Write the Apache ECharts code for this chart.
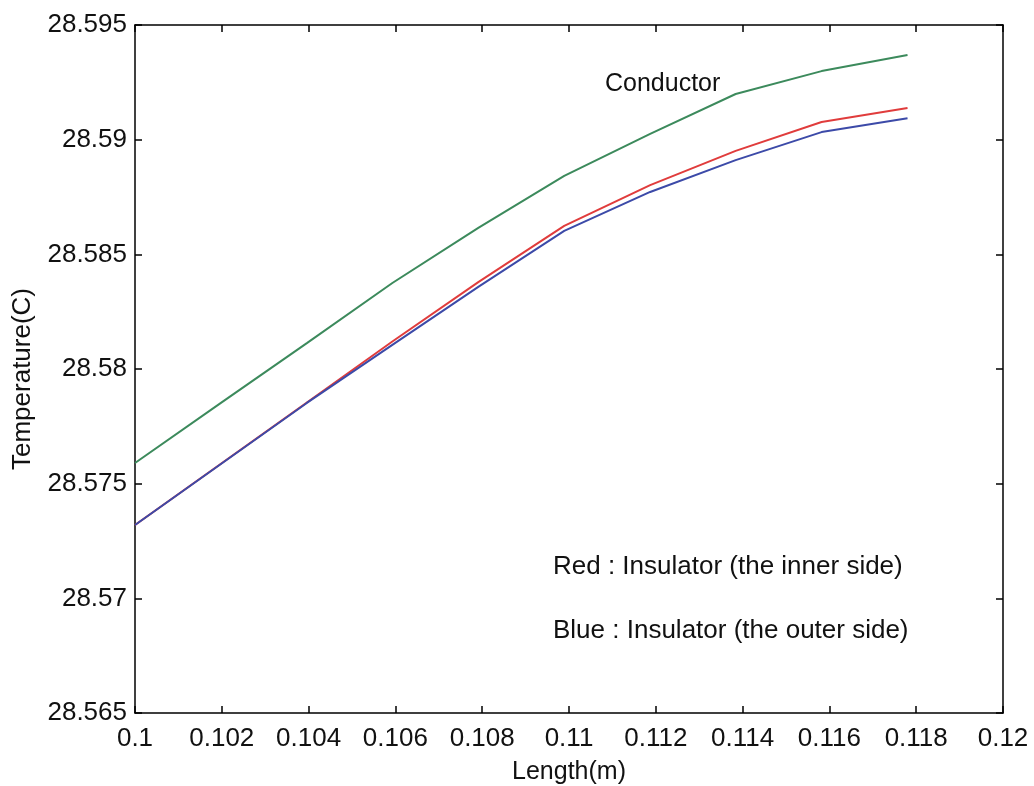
<!DOCTYPE html>
<html>
<head>
<meta charset="utf-8">
<script src="https://cdn.jsdelivr.net/npm/echarts@6/dist/echarts.min.js"></script>
<style>
html,body{margin:0;padding:0;background:#fff;}
#c{width:1034px;height:786px;}
</style>
</head>
<body>
<div id="c"></div>
<script>
const lengthM = [0.1, 0.10198, 0.10396, 0.10593, 0.10791, 0.10989, 0.11187, 0.11384, 0.11582, 0.1178];
const conductor = [28.57590, 28.57852, 28.58113, 28.58375, 28.58615, 28.58842, 28.59025, 28.59199, 28.59299, 28.59369];
const insulatorInner = [28.57320, 28.57587, 28.57854, 28.58120, 28.58379, 28.58624, 28.58802, 28.58951, 28.59077, 28.59138];
const insulatorOuter = [28.57320, 28.57586, 28.57852, 28.58105, 28.58358, 28.58602, 28.58772, 28.58911, 28.59033, 28.59093];
const xTicks = {min: 0.1, max: 0.12, step: 0.002};
const yTicks = {min: 28.565, max: 28.595, step: 0.005};
const labels = {
  x: 'Length(m)', y: 'Temperature(C)', conductor: 'Conductor',
  red: 'Red : Insulator (the inner side)', blue: 'Blue : Insulator (the outer side)'
};

const FONT = 'Liberation Sans, Arial, sans-serif';
const pairs = (xs, ys) => xs.map((x, i) => [x, ys[i]]);
const fmt = v => String(parseFloat(Number(v).toFixed(3)));

const chart = echarts.init(document.getElementById('c'), null, {renderer: 'canvas'});
const axisCommon = {
  axisLine: {show: true, onZero: false, lineStyle: {color: '#000', width: 1.5}},
  axisTick: {show: true, inside: true, length: 7, lineStyle: {color: '#000', width: 1.5}},
  splitLine: {show: false}
};
const line = (name, data, color) => ({
  name, type: 'line', data, showSymbol: false, symbol: 'none',
  lineStyle: {color, width: 2}, itemStyle: {color}, animation: false, z: 3
});

chart.setOption({
  animation: false,
  backgroundColor: '#fff',
  grid: {left: 135, right: 31, top: 25, bottom: 73, containLabel: false, outerBoundsMode: 'none'},
  xAxis: [
    Object.assign({
      type: 'value', min: xTicks.min, max: xTicks.max, interval: xTicks.step, position: 'bottom',
      name: labels.x, nameLocation: 'middle', nameGap: 47,
      nameTextStyle: {fontFamily: FONT, fontSize: 25, color: '#111'},
      axisLabel: {show: true, formatter: fmt, margin: 13, fontFamily: FONT, fontSize: 26, color: '#111'}
    }, axisCommon),
    Object.assign({
      type: 'value', min: xTicks.min, max: xTicks.max, interval: xTicks.step, position: 'top',
      axisLabel: {show: false}
    }, axisCommon)
  ],
  yAxis: [
    Object.assign({
      type: 'value', min: yTicks.min, max: yTicks.max, interval: yTicks.step, position: 'left',
      name: labels.y, nameLocation: 'middle', nameGap: 99, nameRotate: 90,
      nameTextStyle: {fontFamily: FONT, fontSize: 26, color: '#111', padding: [0, 20, 0, 0]},
      axisLabel: {show: true, formatter: fmt, margin: 8, fontFamily: FONT, fontSize: 26, color: '#111'}
    }, axisCommon),
    Object.assign({
      type: 'value', min: yTicks.min, max: yTicks.max, interval: yTicks.step, position: 'right',
      axisLabel: {show: false}
    }, axisCommon)
  ],
  series: [
    line('Conductor', pairs(lengthM, conductor), '#3c8a5c'),
    line('Insulator inner', pairs(lengthM, insulatorInner), '#e03c3c'),
    line('Insulator outer', pairs(lengthM, insulatorOuter), '#3c4aa8')
  ],
  graphic: [
    {type: 'text', left: 605, top: 72, style: {text: labels.conductor, fontFamily: FONT, fontSize: 25, fill: '#111'}},
    {type: 'text', left: 553, top: 554, style: {text: labels.red, fontFamily: FONT, fontSize: 26, fill: '#111'}},
    {type: 'text', left: 553, top: 618, style: {text: labels.blue, fontFamily: FONT, fontSize: 26, fill: '#111'}}
  ]
});
</script>
</body>
</html>
